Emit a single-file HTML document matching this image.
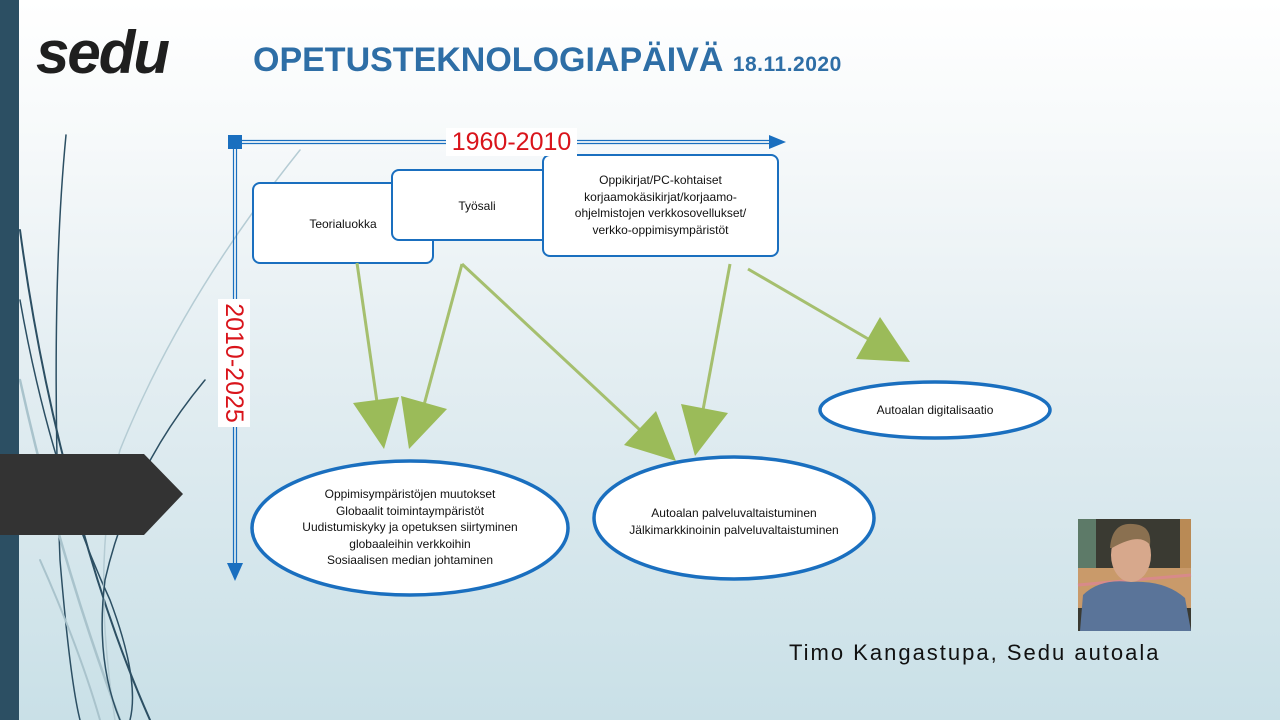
<!DOCTYPE html>
<html><head><meta charset="utf-8"><style>
html,body{margin:0;padding:0}
body{width:1280px;height:720px;position:relative;overflow:hidden;font-family:"Liberation Sans",sans-serif;background:linear-gradient(#ffffff 0%,#f6f9fa 20%,#e4eef2 50%,#c9e0e7 100%)}
.abs{position:absolute}
.t{font-size:12px;color:#111;text-align:center;line-height:16.5px}
</style></head><body>
<svg class="abs" style="left:0;top:0" width="1280" height="720">
  <g fill="none" stroke-linecap="round">
    <path d="M66 135 Q50 300 60 560 Q70 680 80 720" stroke="#2c4f63" stroke-width="1.5"/>
    <path d="M20 230 Q40 380 80 520 Q110 630 150 720" stroke="#2c4f63" stroke-width="2"/>
    <path d="M20 300 Q50 470 110 600 Q140 680 130 720" stroke="#2c4f63" stroke-width="1.5"/>
    <path d="M20 380 Q60 560 120 720" stroke="#a9c3cc" stroke-width="2.5"/>
    <path d="M300 150 Q180 300 120 450 Q90 560 115 720" stroke="#b5ccd4" stroke-width="1.5"/>
    <path d="M205 380 Q130 470 105 580 Q95 660 120 720" stroke="#2c4f63" stroke-width="1.5"/>
    <path d="M40 560 Q80 650 100 720" stroke="#a9c3cc" stroke-width="2"/>
  </g>
  <rect x="0" y="0" width="19" height="720" fill="#2c4f63"/>
  <path d="M0 454 L144 454 L183 494 L144 535 L0 535 Z" fill="#333333"/>
  <g stroke="#1a6fbf" stroke-width="1.2">
    <line x1="235" y1="140.5" x2="772" y2="140.5"/><line x1="235" y1="143.5" x2="772" y2="143.5"/>
    <line x1="233.5" y1="142" x2="233.5" y2="568"/><line x1="236.5" y1="142" x2="236.5" y2="568"/>
  </g>
  <polygon points="769,135 786,142 769,149" fill="#1a6fbf"/>
  <polygon points="227,563 243,563 235,581" fill="#1a6fbf"/>
  <rect x="228" y="135" width="14" height="14" fill="#1a6fbf"/>
  <g fill="#fff" stroke="#1a6fbf" stroke-width="2">
    <rect x="253" y="183" width="180" height="80" rx="7"/>
    <rect x="392" y="170" width="170" height="70" rx="7"/>
    <rect x="543" y="155" width="235" height="101" rx="7"/>
    <ellipse cx="410" cy="528" rx="158" ry="67" stroke-width="3.5"/>
    <ellipse cx="734" cy="518" rx="140" ry="61" stroke-width="3.5"/>
    <ellipse cx="935" cy="410" rx="115" ry="28" stroke-width="3.5"/>
  </g>
  <g stroke="#a5bf6e" stroke-width="3">
    <line x1="357" y1="263" x2="377" y2="402"/>
    <line x1="462" y1="264" x2="424" y2="405"/>
    <line x1="462" y1="264" x2="640" y2="430"/>
    <line x1="730" y1="264" x2="703" y2="410"/>
    <line x1="748" y1="269" x2="870" y2="340"/>
  </g>
  <g fill="#9bbb59">
    <polygon points="353,403 399,397 384,449"/>
    <polygon points="401,396 447,409 409,449"/>
    <polygon points="624,445 656,411 676,461"/>
    <polygon points="681,404 728,413 695,456"/>
    <polygon points="856,359 880,317 910,362"/>
  </g>
  <rect x="1078" y="519" width="113" height="112" fill="#3a3a32"/>
  <rect x="1078" y="519" width="18" height="60" fill="#5d7a68"/>
  <rect x="1180" y="519" width="11" height="50" fill="#b98a55"/>
  <rect x="1078" y="568" width="113" height="40" fill="#c99a6a"/>
  <path d="M1078 585 L1191 575" stroke="#d88a8a" stroke-width="3"/>
  <ellipse cx="1131" cy="555" rx="20" ry="27" fill="#d7a88c"/>
  <path d="M1110 548 Q1112 522 1133 524 Q1152 525 1150 545 Q1140 532 1112 548Z" fill="#8a7050"/>
  <path d="M1080 631 L1083 595 Q1100 578 1131 582 Q1165 580 1185 598 L1191 631 Z" fill="#5a7499"/>
</svg>
<div class="abs" style="left:36px;top:18px;font-size:60px;font-weight:bold;font-style:italic;color:#1f1f1f;letter-spacing:-2px">sedu</div>
<div class="abs" style="left:253px;top:41px;font-size:34px;font-weight:bold;color:#2e6ea6;white-space:nowrap">OPETUSTEKNOLOGIAPÄIVÄ <span style="font-size:21px;letter-spacing:0.5px">18.11.2020</span></div>
<div class="abs" style="left:446px;top:128px;width:131px;height:28px;background:#fff;color:#d9141b;font-size:25px;line-height:28px;text-align:center">1960-2010</div>
<div class="abs" style="left:170px;top:347px;width:128px;height:32px;background:#fff;color:#d9141b;font-size:25px;line-height:32px;text-align:center;transform:rotate(90deg)">2010-2025</div>
<div class="abs t" style="left:253px;top:216px;width:180px">Teorialuokka</div>
<div class="abs t" style="left:392px;top:198px;width:170px">Työsali</div>
<div class="abs t" style="left:543px;top:172px;width:235px">Oppikirjat/PC-kohtaiset<br>korjaamokäsikirjat/korjaamo-<br>ohjelmistojen verkkosovellukset/<br>verkko-oppimisympäristöt</div>
<div class="abs t" style="left:252px;top:486px;width:316px">Oppimisympäristöjen muutokset<br>Globaalit toimintaympäristöt<br>Uudistumiskyky ja opetuksen siirtyminen<br>globaaleihin verkkoihin<br>Sosiaalisen median johtaminen</div>
<div class="abs t" style="left:594px;top:505px;width:280px">Autoalan palveluvaltaistuminen<br>Jälkimarkkinoinin palveluvaltaistuminen</div>
<div class="abs t" style="left:820px;top:402px;width:230px">Autoalan digitalisaatio</div>
<div class="abs" style="left:789px;top:640px;font-size:22px;letter-spacing:2px;color:#111;white-space:nowrap">Timo Kangastupa, Sedu autoala</div>
</body></html>
